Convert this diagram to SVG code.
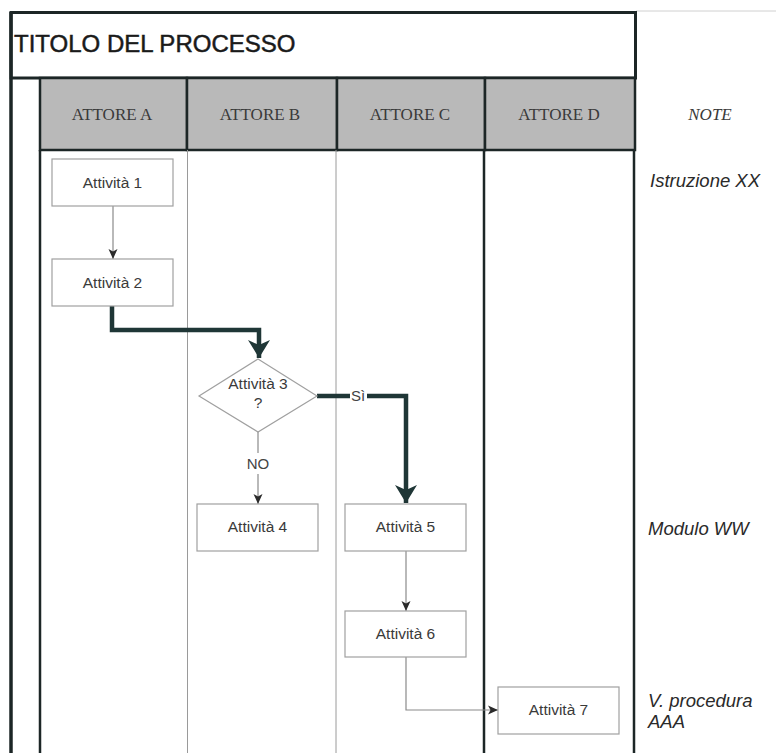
<svg xmlns="http://www.w3.org/2000/svg" width="776" height="753" viewBox="0 0 776 753">
<style>
.frame{stroke:#1c2626;fill:none}
.lane{stroke:#9a9a9a;stroke-width:1;fill:none}
.hdr{fill:#b9b9b9;stroke:#1c2626;stroke-width:2.5}
.hl{font-family:"Liberation Serif",serif;font-size:17px;fill:#3a3a3a;text-anchor:middle}
.box{fill:#fff;stroke:#a0a0a0;stroke-width:1.2}
.t{font-family:"Liberation Sans",Arial,sans-serif;font-size:15.5px;fill:#3a3a3a;text-anchor:middle}
.note{font-family:"Liberation Sans",Arial,sans-serif;font-size:18.5px;font-style:italic;fill:#2a2a2a}
.thin{stroke:#8a8a8a;stroke-width:1.2;fill:none}
.thick{stroke:#1f3636;stroke-width:4.5;fill:none}
.lbl{font-family:"Liberation Sans",Arial,sans-serif;font-size:15px;fill:#444;text-anchor:middle}
</style>
<defs>
<marker id="ah" markerUnits="userSpaceOnUse" markerWidth="10" markerHeight="10" viewBox="0 0 10 10" refX="10" refY="5" orient="auto">
<path d="M0,0.5 L10,5 L0,9.5 L2.5,5 z" fill="#2a2a2a"/>
</marker>
<marker id="ahT" markerUnits="userSpaceOnUse" markerWidth="18" markerHeight="22" viewBox="0 0 18 22" refX="18" refY="11" orient="auto">
<path d="M0,0 L18,11 L0,22 L5,11 z" fill="#1f3636"/>
</marker>
</defs>
<rect width="776" height="753" fill="#fff"/>
<g id="frame">
<line x1="636" y1="11" x2="776" y2="11" stroke="#d0d0d0" stroke-width="1"/>
<rect id="title-box" x="11" y="12.5" width="624.5" height="65.5" class="frame" stroke-width="3"/>
<text id="title" x="14" y="52" font-family="Liberation Sans,Arial,sans-serif" font-size="24" fill="#1a1a1a" stroke="#1a1a1a" stroke-width="0.5">TITOLO DEL PROCESSO</text>
<line x1="11" y1="12" x2="11" y2="753" class="frame" stroke-width="3.5"/>
<g id="header">
<rect x="40" y="78" width="147" height="72" class="hdr"/>
<rect x="187" y="78" width="150" height="72" class="hdr"/>
<rect x="337" y="78" width="148" height="72" class="hdr"/>
<rect x="485" y="78" width="150" height="72" class="hdr"/>
<text class="hl" x="112" y="120">ATTORE A</text>
<text class="hl" x="260" y="120">ATTORE B</text>
<text class="hl" x="410" y="120">ATTORE C</text>
<text class="hl" x="559" y="120">ATTORE D</text>
<text class="hl" x="710" y="120" font-style="italic" font-size="16">NOTE</text>
</g>
<line x1="40" y1="150" x2="40" y2="753" class="frame" stroke-width="2.5"/>
<line x1="187.5" y1="150" x2="187.5" y2="753" class="lane"/>
<line x1="336" y1="150" x2="336" y2="753" class="lane"/>
<line x1="484" y1="150" x2="484" y2="753" class="frame" stroke-width="2.5"/>
<line x1="634" y1="150" x2="634" y2="753" class="frame" stroke-width="2.5"/>
</g>
<g id="connectors">
<path class="thin" d="M113,206 V259" marker-end="url(#ah)"/>
<path class="thick" d="M112,306 V330 H259 V358" marker-end="url(#ahT)"/>
<path class="thick" d="M317,396 H350"/>
<path class="thick" d="M367,396 H406 V503" marker-end="url(#ahT)"/>
<text class="lbl" x="358" y="401">Sì</text>
<path class="thin" d="M258,431 V453"/>
<text class="lbl" x="258" y="469">NO</text>
<path class="thin" d="M258,474 V504" marker-end="url(#ah)"/>
<path class="thin" d="M406,551 V611" marker-end="url(#ah)"/>
<path class="thin" d="M406,657 V710 H498" marker-end="url(#ah)"/>
</g>
<g id="n1"><rect class="box" x="52" y="159" width="121" height="47"/><text class="t" x="112.5" y="188">Attività 1</text></g>
<g id="n2"><rect class="box" x="52" y="259" width="121" height="47"/><text class="t" x="112.5" y="288">Attività 2</text></g>
<g id="n3"><path class="box" d="M258,359 L317,396 L258,432 L199,396 z"/><text class="t" x="258" y="389">Attività 3</text><text class="t" x="258" y="408">?</text></g>
<g id="n4"><rect class="box" x="197" y="504" width="121" height="47"/><text class="t" x="257.5" y="532">Attività 4</text></g>
<g id="n5"><rect class="box" x="345" y="504" width="121" height="47"/><text class="t" x="405.5" y="532">Attività 5</text></g>
<g id="n6"><rect class="box" x="345" y="611" width="121" height="46"/><text class="t" x="405.5" y="639">Attività 6</text></g>
<g id="n7"><rect class="box" x="498" y="687" width="121" height="47"/><text class="t" x="558.5" y="715">Attività 7</text></g>
<g id="notes">
<text class="note" x="650" y="187">Istruzione XX</text>
<text class="note" x="648" y="535">Modulo WW</text>
<text class="note" x="648" y="707">V. procedura</text>
<text class="note" x="648" y="728">AAA</text>
</g>
</svg>
